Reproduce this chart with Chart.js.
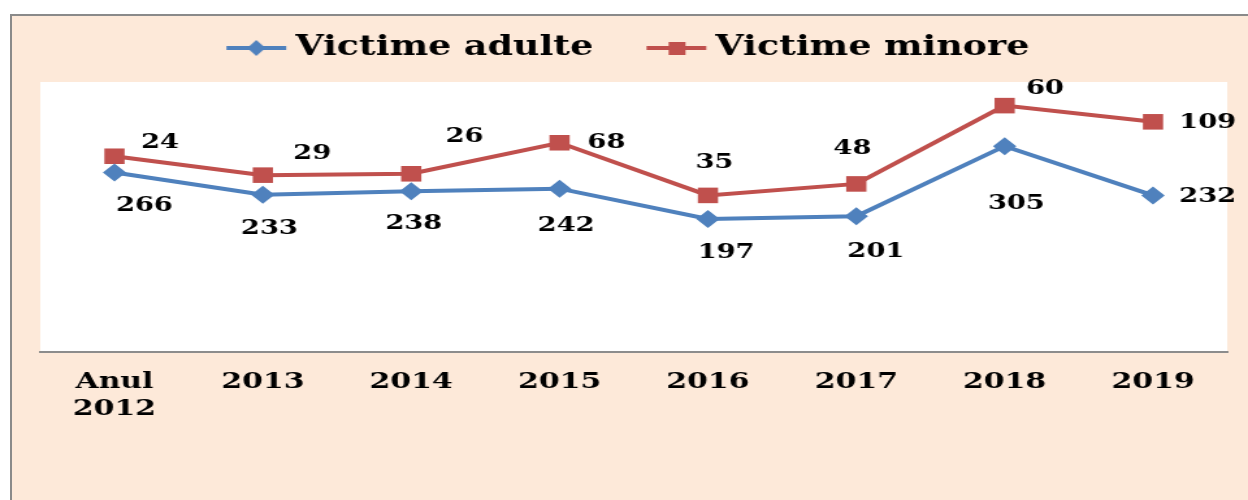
<!DOCTYPE html>
<html>
<head>
<meta charset="utf-8">
<script src="https://cdn.jsdelivr.net/npm/chart.js@4/dist/chart.umd.min.js"></script>
<style>
    body { margin: 0; background: #ffffff; overflow: hidden; }
    .frame {
        position: absolute; left: 10px; top: 14px; width: 1260px; height: 500px;
        background: #FDE9D9; border-left: 2px solid #8a8a8a; border-top: 2px solid #8a8a8a;
    }
</style>
</head>
<body>
<div class="frame"></div>
<!-- the source picture is stretched sideways, so the canvas is too -->
<canvas id="victimeChart" width="960" height="500" style="position:absolute;left:0;top:0;width:1248px;height:500px;"></canvas>
<script>
const years = [['Anul', '2012'], '2013', '2014', '2015', '2016', '2017', '2018', '2019'];
const victimeAdulte = [266, 233, 238, 242, 197, 201, 305, 232];
const victimeMinore = [24, 29, 26, 68, 35, 48, 60, 109];

// label offsets from each point (canvas px), the source placed them by hand
const adulteLabelOffsets = [[23, 33], [5, 34], [2, 32], [5, 37], [14, 34], [15, 35], [9, 57], [42, 1]];
const minoreLabelOffsets = [[35, -14], [38, -22], [41, -37], [36, 0], [5, -33], [-3, -35], [31, -17], [42, 1]];

const blue = '#4F81BD';
const red = '#C0504D';
const fontFamily = '"DejaVu Serif", Georgia, serif';

function legendIcon(color, style) {
    const c = document.createElement('canvas');
    c.width = 60;
    c.height = 24;
    const ctx = c.getContext('2d');
    ctx.strokeStyle = color;
    ctx.lineWidth = 4;
    ctx.beginPath();
    ctx.moveTo(6, 12);
    ctx.lineTo(52, 12);
    ctx.stroke();
    ctx.fillStyle = color;
    ctx.beginPath();
    if (style === 'diamond') {
        ctx.moveTo(29, 4); ctx.lineTo(36, 12); ctx.lineTo(29, 20); ctx.lineTo(22, 12);
        ctx.closePath();
        ctx.fill();
    } else {
        ctx.fillRect(23, 6, 13, 13);
    }
    return c;
}
const legendIcons = [legendIcon(blue, 'diamond'), legendIcon(red, 'square')];

const plotBackground = {
    id: 'plotBackground',
    beforeDraw(chart) {
        const a = chart.chartArea;
        const ctx = chart.ctx;
        ctx.save();
        ctx.fillStyle = '#ffffff';
        ctx.fillRect(a.left, a.top, a.right - a.left, a.bottom - a.top);
        ctx.restore();
    }
};

// legend box height fixed so the plot starts where the source's does
const legendHeight = {
    id: 'legendHeight',
    afterInit(chart) {
        const legend = chart.legend;
        const fit = legend.fit;
        legend.fit = function() {
            fit.call(this);
            this.height = 98;
        };
    }
};

const valueLabels = {
    id: 'valueLabels',
    afterDatasetsDraw(chart) {
        const ctx = chart.ctx;
        const offsets = [adulteLabelOffsets, minoreLabelOffsets];
        ctx.save();
        ctx.font = 'bold 21px ' + fontFamily;
        ctx.fillStyle = '#000000';
        ctx.textAlign = 'center';
        ctx.textBaseline = 'middle';
        chart.data.datasets.forEach(function(ds, i) {
            chart.getDatasetMeta(i).data.forEach(function(pt, j) {
                ctx.fillText(ds.data[j], pt.x + offsets[i][j][0], pt.y + offsets[i][j][1]);
            });
        });
        ctx.restore();
    }
};

new Chart(document.getElementById('victimeChart'), {
    type: 'line',
    data: {
        labels: years,
        datasets: [{
            label: 'Victime adulte',
            data: victimeAdulte,
            borderColor: blue,
            backgroundColor: blue,
            borderWidth: 4,
            pointStyle: 'rectRot',
            pointRadius: 9,
            pointBorderWidth: 0,
            fill: false,
            tension: 0
        }, {
            label: 'Victime minore',
            data: victimeMinore,
            borderColor: red,
            backgroundColor: red,
            borderWidth: 4,
            pointStyle: 'rect',
            pointRadius: 11,
            pointBorderWidth: 0,
            fill: false,
            tension: 0
        }]
    },
    options: {
        responsive: false,
        devicePixelRatio: 1,
        animation: false,
        layout: {
            padding: { top: -16, left: 31, right: 16, bottom: 0 }
        },
        plugins: {
            legend: {
                position: 'top',
                labels: {
                    usePointStyle: true,
                    pointStyleWidth: 30,
                    padding: 50,
                    color: '#000000',
                    font: { family: fontFamily, size: 28, weight: 'bold' },
                    generateLabels(chart) {
                        return chart.data.datasets.map(function(ds, i) {
                            return {
                                text: ds.label,
                                pointStyle: legendIcons[i],
                                fillStyle: ds.backgroundColor,
                                strokeStyle: ds.borderColor,
                                lineWidth: 0,
                                fontColor: '#000000',
                                datasetIndex: i
                            };
                        });
                    }
                }
            },
            tooltip: { enabled: false }
        },
        scales: {
            x: {
                offset: true,
                grid: {
                    display: false,
                    drawTicks: false
                },
                border: { display: true, color: '#8c8c8c', width: 2 },
                ticks: {
                    color: '#000000',
                    padding: 16,
                    autoSkip: false,
                    maxRotation: 0,
                    font: { family: fontFamily, size: 23, weight: 'bold' }
                },
                afterFit(scale) {
                    scale.height = 148;
                }
            },
            y: {
                display: false,
                stacked: true,
                min: 0,
                max: 400
            }
        }
    },
    plugins: [plotBackground, legendHeight, valueLabels]
});
</script>
</body>
</html>
